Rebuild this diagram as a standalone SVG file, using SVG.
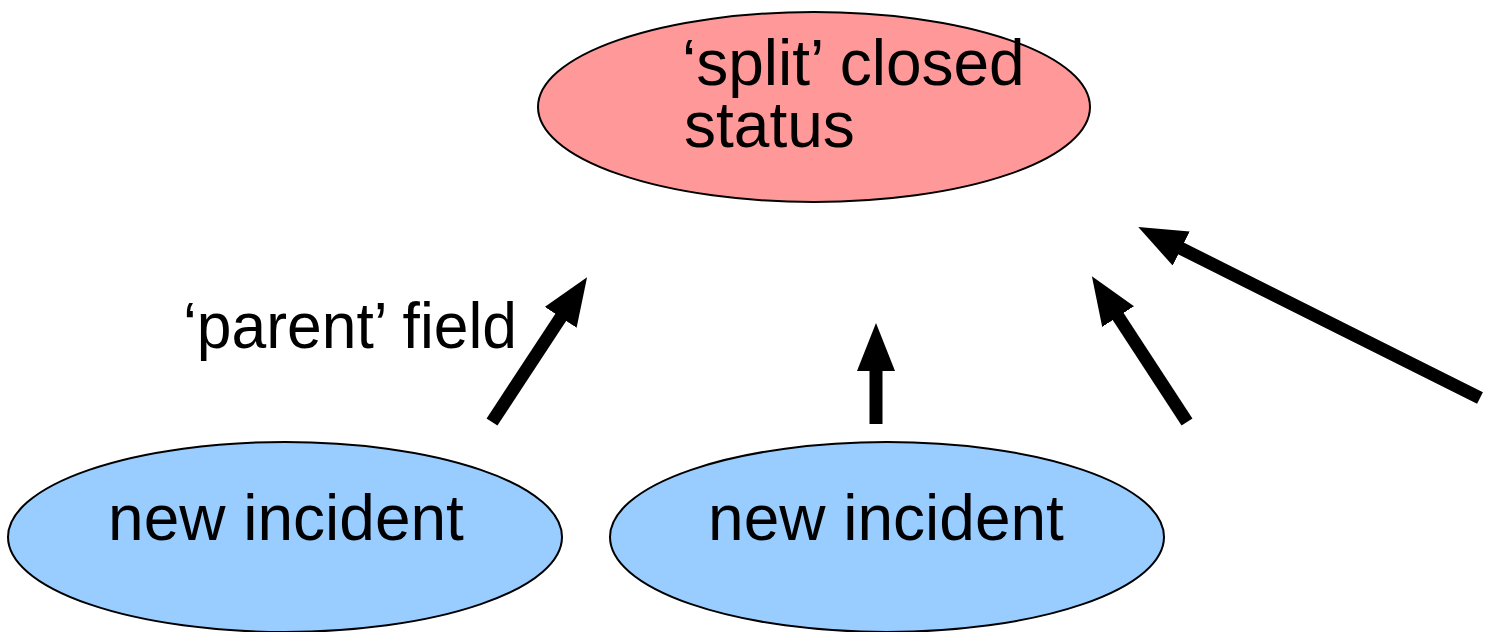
<svg xmlns="http://www.w3.org/2000/svg" width="1493" height="632" viewBox="0 0 1493 632">
  <style>
    .node { stroke: #000; stroke-width: 2; }
    .closed { fill: #FF9999; }
    .incident { fill: #99CCFF; }
    .label { font-family: "Liberation Sans", Arial, sans-serif; font-size: 64px; fill: #000; }
    .link { stroke: #000; stroke-width: 13; fill: none; marker-end: url(#head); }
  </style>
  <defs>
    <marker id="head" viewBox="0 0 48 38" markerWidth="48" markerHeight="38" refX="20" refY="19" markerUnits="userSpaceOnUse" orient="auto">
      <path d="M0,0 L48,19 L0,38 z" fill="#000"/>
    </marker>
  </defs>
  <rect width="1493" height="632" fill="#fff"/>

  <g id="split-closed-status">
    <ellipse class="node closed" cx="814" cy="107" rx="276" ry="95"/>
    <text class="label" x="682" y="85">‘split’ closed<tspan x="684" dy="62">status</tspan></text>
  </g>

  <g id="new-incident-1">
    <ellipse class="node incident" cx="285" cy="537" rx="277" ry="95"/>
    <text class="label" x="286" y="540" text-anchor="middle">new incident</text>
  </g>

  <g id="new-incident-2">
    <ellipse class="node incident" cx="887" cy="537" rx="277" ry="95"/>
    <text class="label" x="886" y="540" text-anchor="middle">new incident</text>
  </g>

  <g id="parent-field-label">
    <text class="label" x="183" y="348" textLength="334" lengthAdjust="spacingAndGlyphs">‘parent’ field</text>
  </g>

  <g id="connectors">
    <line class="link" x1="492" y1="422" x2="571.7" y2="300.7"/>
    <line class="link" x1="876" y1="424" x2="876" y2="351"/>
    <line class="link" x1="1187" y1="422" x2="1107.2" y2="299.8"/>
    <line class="link" x1="1480" y1="398" x2="1163.3" y2="239.6"/>
  </g>
</svg>
